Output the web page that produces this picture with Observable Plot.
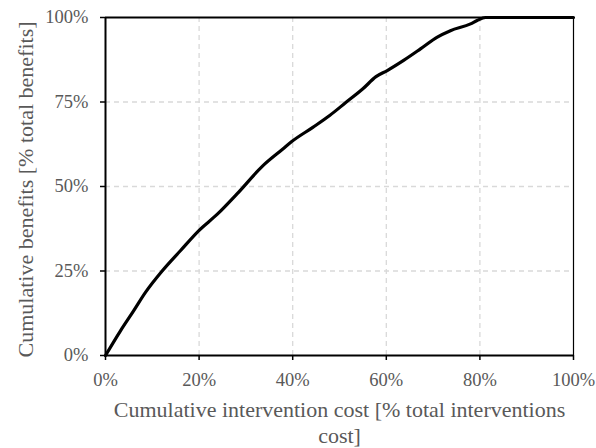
<!DOCTYPE html>
<html>
<head>
<meta charset="utf-8">
<script src="https://cdn.jsdelivr.net/npm/d3@7"></script>
<script src="https://cdn.jsdelivr.net/npm/@observablehq/plot@0.6"></script>
<style>
  html, body { margin: 0; padding: 0; background: #fff; }
  #chart svg { display: block; }
</style>
</head>
<body>
<div id="chart"></div>
<script>
// Cumulative intervention cost (% of total) and cumulative benefits (% of total)
const costPct    = [0, 3.2, 6.0, 8.5, 12.1, 16.0, 19.9, 23.9, 28.1, 33.6, 37.9, 39.8, 44.3, 47.9, 51.4, 55.0, 57.8, 60.2, 63.7, 67.3, 70.9, 73.7, 78.0, 79.4, 81.2, 100];
const benefitPct = [0, 7.3, 13.2, 18.6, 25.0, 31.0, 36.9, 41.8, 47.8, 56.1, 61.1, 63.3, 67.5, 71.0, 74.9, 78.9, 82.5, 84.3, 87.3, 90.7, 94.2, 96.1, 98.1, 99.1, 100, 100];
const xTicks = [0, 20, 40, 60, 80, 100];
const yTicks = [0, 25, 50, 75, 100];
const xTitle = "Cumulative intervention cost [% total interventions\ncost]";
const yTitle = "Cumulative benefits [% total benefits]";

const data = costPct.map((c, i) => ({cost: c, benefit: benefitPct[i]}));
const grey = "#595959";

const chart = Plot.plot({
  width: 596,
  height: 448,
  marginLeft: 105,
  marginRight: 23,
  marginTop: 17,
  marginBottom: 93,
  style: {fontFamily: "'Liberation Serif', 'Times New Roman', serif", background: "#fff", color: "black"},
  x: {domain: [0, 100]},
  y: {domain: [0, 100]},
  marks: [
    Plot.gridX(xTicks.slice(1, -1), {stroke: "#d9d9d9", strokeOpacity: 1, strokeWidth: 1.3, strokeDasharray: "5,4"}),
    Plot.gridY(yTicks.slice(1, -1), {stroke: "#d9d9d9", strokeOpacity: 1, strokeWidth: 1.3, strokeDasharray: "5,4"}),
    Plot.axisX(xTicks, {tickSize: 5, tickPadding: 12, tickFormat: d => d + "%", fontSize: 18.5, fill: grey, stroke: "black", strokeWidth: 1.5, label: null}),
    Plot.axisY(yTicks, {tickSize: 5, tickPadding: 12, tickFormat: d => d + "%", fontSize: 18.5, fill: grey, stroke: "black", strokeWidth: 1.5, label: null}),
    Plot.ruleX([100], {stroke: "black", strokeWidth: 1.2}),
    Plot.ruleY([100], {stroke: "black", strokeWidth: 2}),
    Plot.ruleY([0], {stroke: "black", strokeWidth: 2}),
    Plot.ruleX([0], {stroke: "black", strokeWidth: 2}),
    Plot.line(data, {x: "cost", y: "benefit", stroke: "black", strokeWidth: 3.2, curve: "monotone-x"}),
    Plot.text([xTitle], {frameAnchor: "bottom", dy: 66, text: d => d, fontSize: 22, fill: grey, lineHeight: 1.2, lineAnchor: "middle", textAnchor: "middle"}),
    Plot.text([yTitle], {frameAnchor: "left", dx: -80, dy: 3, text: d => d, fontSize: 22, fill: grey, rotate: -90, textAnchor: "middle", lineAnchor: "middle"})
  ]
});
document.getElementById("chart").append(chart);
</script>
</body>
</html>
